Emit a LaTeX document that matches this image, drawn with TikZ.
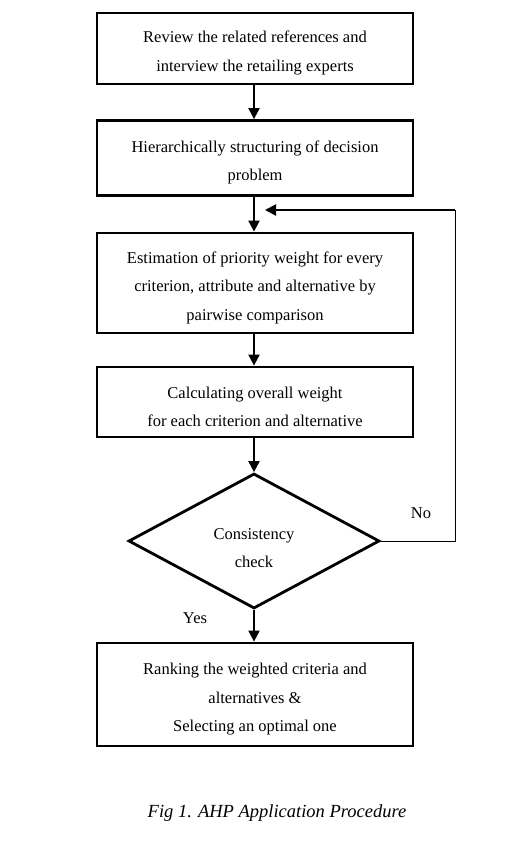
\documentclass[tikz,border=0pt]{standalone}
\usepackage{fontspec}
\setmainfont{Liberation Serif}
\usetikzlibrary{shapes.geometric,arrows.meta}
\newcommand{\topstrut}[1]{\rule{0pt}{#1}}
\begin{document}
\begin{tikzpicture}[x=1pt,y=-1pt,
  boxstyle/.style={draw,line width=2.8pt,rectangle,minimum width=316pt,align=center,inner sep=0pt,font=\fontsize{16.5}{28.5}\selectfont},
  decstyle/.style={draw,line width=2.8pt,diamond,minimum width=251pt,minimum height=135pt,inner sep=0pt,align=center,font=\fontsize{16.5}{28.5}\selectfont},
  flow/.style={line width=2pt,-{Triangle[length=11pt,width=11pt]}},
  fback/.style={line width=1pt},
  lbl/.style={font=\fontsize{16.5}{20}\selectfont,inner sep=0pt}]
\useasboundingbox (0,0) rectangle (511,851);
\node[boxstyle,minimum height=71pt] (b1) at (255,48.5) {\topstrut{21pt}Review the related references and\\interview the retailing experts};
\node[boxstyle,minimum height=75pt] (b2) at (255,158) {\topstrut{21pt}Hierarchically structuring of decision\\problem};
\node[boxstyle,minimum height=100pt] (b3) at (255,283) {\topstrut{21pt}Estimation of priority weight for every\\criterion, attribute and alternative by\\pairwise comparison};
\node[boxstyle,minimum height=70pt] (b4) at (255,402) {\topstrut{21pt}Calculating overall weight\\for each criterion and alternative};
\node[decstyle] (d) at (254,541) {\topstrut{25pt}Consistency\\check};
\node[boxstyle,minimum height=103pt] (b5) at (255,694.5) {\topstrut{21pt}Ranking the weighted criteria and\\alternatives \&\\Selecting an optimal one};
\draw[flow] (b1.south -| 254,0) -- (b2.north -| 254,0);
\draw[flow] (b2.south -| 254,0) -- (b3.north -| 254,0);
\draw[flow] (b3.south -| 254,0) -- (b4.north -| 254,0);
\draw[flow] (b4.south -| 254,0) -- (d.north);
\draw[flow] (d.south) -- (b5.north -| 254,0);
\coordinate (fa) at (455,541);
\coordinate (fb) at (455,210);
\coordinate (fc) at (265,210);
\draw[fback] (d.east) -- (fa) -- (fb);
\draw[flow] (fb) -- (fc);
\node[lbl] (no) at (421,513) {No};
\node[lbl] (yes) at (195,618.5) {Yes};
\node[font=\fontsize{18.5}{22}\selectfont\itshape,inner sep=0pt] (cap) at (277,813) {Fig 1. AHP Application Procedure};
\end{tikzpicture}
\end{document}
